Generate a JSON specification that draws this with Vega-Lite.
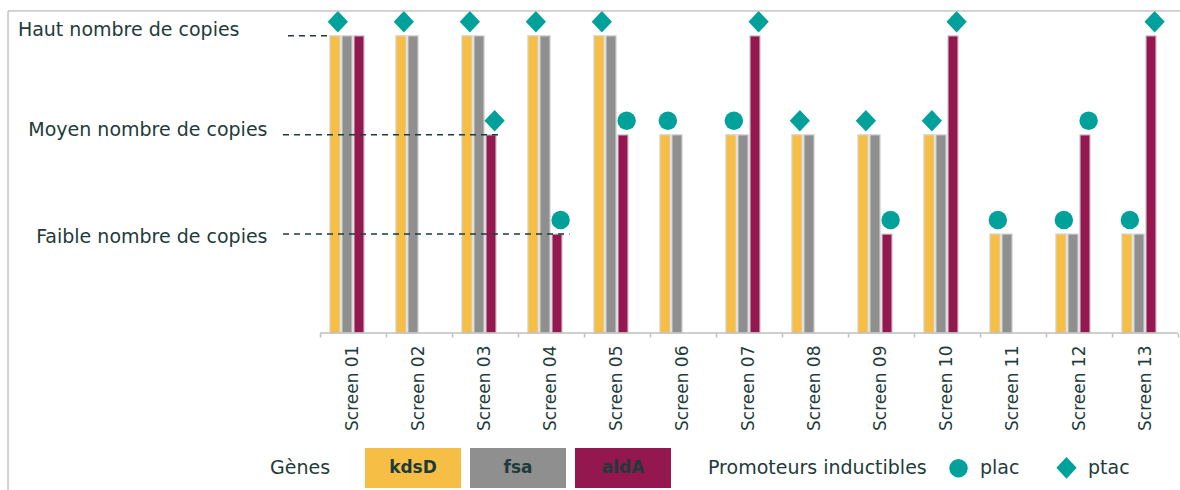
{
  "$schema": "https://vega.github.io/schema/vega-lite/v6.json",
  "autosize": "none",
  "width": 895,
  "height": 327,
  "padding": {"left": 283, "top": 6, "right": 2, "bottom": 157},
  "background": "white",
  "config": {
    "view": {"stroke": null},
    "font": "DejaVu Sans",
    "axis": {"labelColor": "#1e3b3b", "titleColor": "#1e3b3b"},
    "legend": {"labelColor": "#1e3b3b", "titleColor": "#1e3b3b"}
  },
  "datasets": {
    "bars": [
      {"screen": "Screen 01", "gene": "kdsD", "level": 3},
      {"screen": "Screen 01", "gene": "fsa", "level": 3},
      {"screen": "Screen 01", "gene": "aldA", "level": 3},
      {"screen": "Screen 02", "gene": "kdsD", "level": 3},
      {"screen": "Screen 02", "gene": "fsa", "level": 3},
      {"screen": "Screen 03", "gene": "kdsD", "level": 3},
      {"screen": "Screen 03", "gene": "fsa", "level": 3},
      {"screen": "Screen 03", "gene": "aldA", "level": 2},
      {"screen": "Screen 04", "gene": "kdsD", "level": 3},
      {"screen": "Screen 04", "gene": "fsa", "level": 3},
      {"screen": "Screen 04", "gene": "aldA", "level": 1},
      {"screen": "Screen 05", "gene": "kdsD", "level": 3},
      {"screen": "Screen 05", "gene": "fsa", "level": 3},
      {"screen": "Screen 05", "gene": "aldA", "level": 2},
      {"screen": "Screen 06", "gene": "kdsD", "level": 2},
      {"screen": "Screen 06", "gene": "fsa", "level": 2},
      {"screen": "Screen 07", "gene": "kdsD", "level": 2},
      {"screen": "Screen 07", "gene": "fsa", "level": 2},
      {"screen": "Screen 07", "gene": "aldA", "level": 3},
      {"screen": "Screen 08", "gene": "kdsD", "level": 2},
      {"screen": "Screen 08", "gene": "fsa", "level": 2},
      {"screen": "Screen 09", "gene": "kdsD", "level": 2},
      {"screen": "Screen 09", "gene": "fsa", "level": 2},
      {"screen": "Screen 09", "gene": "aldA", "level": 1},
      {"screen": "Screen 10", "gene": "kdsD", "level": 2},
      {"screen": "Screen 10", "gene": "fsa", "level": 2},
      {"screen": "Screen 10", "gene": "aldA", "level": 3},
      {"screen": "Screen 11", "gene": "kdsD", "level": 1},
      {"screen": "Screen 11", "gene": "fsa", "level": 1},
      {"screen": "Screen 12", "gene": "kdsD", "level": 1},
      {"screen": "Screen 12", "gene": "fsa", "level": 1},
      {"screen": "Screen 12", "gene": "aldA", "level": 2},
      {"screen": "Screen 13", "gene": "kdsD", "level": 1},
      {"screen": "Screen 13", "gene": "fsa", "level": 1},
      {"screen": "Screen 13", "gene": "aldA", "level": 3}
    ],
    "markers": [
      {"screen": "Screen 01", "target": "kdsD+fsa", "promoter": "ptac", "level": 3},
      {"screen": "Screen 02", "target": "kdsD+fsa", "promoter": "ptac", "level": 3},
      {"screen": "Screen 03", "target": "kdsD+fsa", "promoter": "ptac", "level": 3},
      {"screen": "Screen 03", "target": "aldA", "promoter": "ptac", "level": 2},
      {"screen": "Screen 04", "target": "kdsD+fsa", "promoter": "ptac", "level": 3},
      {"screen": "Screen 04", "target": "aldA", "promoter": "plac", "level": 1},
      {"screen": "Screen 05", "target": "kdsD+fsa", "promoter": "ptac", "level": 3},
      {"screen": "Screen 05", "target": "aldA", "promoter": "plac", "level": 2},
      {"screen": "Screen 06", "target": "kdsD+fsa", "promoter": "plac", "level": 2},
      {"screen": "Screen 07", "target": "kdsD+fsa", "promoter": "plac", "level": 2},
      {"screen": "Screen 07", "target": "aldA", "promoter": "ptac", "level": 3},
      {"screen": "Screen 08", "target": "kdsD+fsa", "promoter": "ptac", "level": 2},
      {"screen": "Screen 09", "target": "kdsD+fsa", "promoter": "ptac", "level": 2},
      {"screen": "Screen 09", "target": "aldA", "promoter": "plac", "level": 1},
      {"screen": "Screen 10", "target": "kdsD+fsa", "promoter": "ptac", "level": 2},
      {"screen": "Screen 10", "target": "aldA", "promoter": "ptac", "level": 3},
      {"screen": "Screen 11", "target": "kdsD+fsa", "promoter": "plac", "level": 1},
      {"screen": "Screen 12", "target": "kdsD+fsa", "promoter": "plac", "level": 1},
      {"screen": "Screen 12", "target": "aldA", "promoter": "plac", "level": 2},
      {"screen": "Screen 13", "target": "kdsD+fsa", "promoter": "plac", "level": 1},
      {"screen": "Screen 13", "target": "aldA", "promoter": "ptac", "level": 3}
    ],
    "levelLines": [
      {"level": 3, "from": -0.485, "to": 0.106},
      {"level": 2, "from": -0.5606, "to": 2.76},
      {"level": 1, "from": -0.5606, "to": 3.78}
    ],
    "baseline": [
      {"level": 0, "from": 0, "to": 13}
    ],
    "frame": [
      {"x1": -4.727, "x2": 13.6, "y1": 3.25, "y2": 3.25},
      {"x1": -4.727, "x2": -4.727, "y1": 3.25, "y2": -1.6}
    ]
  },
  "resolve": {"scale": {"x": "independent"}},
  "layer": [
    {
      "resolve": {"scale": {"xOffset": "independent"}},
      "layer": [
        {
          "data": {"name": "bars"},
          "mark": {"type": "bar", "stroke": "#d4d4d4", "strokeWidth": 1.5, "strokeOpacity": 0.8},
          "encoding": {
            "x": {
              "field": "screen", "type": "nominal", "sort": null,
              "scale": {"paddingInner": 0, "paddingOuter": 0.2803, "align": 1},
              "axis": {
                "title": null, "domain": false, "tickBand": "extent",
                "tickColor": "#bfbfbf", "tickSize": 4, "tickWidth": 1.5,
                "labelAngle": -90, "labelAlign": "right", "labelBaseline": "middle",
                "labelFontSize": 17, "labelPadding": 8
              }
            },
            "xOffset": {
              "field": "gene", "type": "nominal",
              "scale": {"domain": ["kdsD", "fsa", "aldA", "-"], "paddingInner": 0.15, "paddingOuter": 0.825}
            },
            "y": {
              "field": "level", "type": "quantitative",
              "scale": {"domain": [0, 3.3], "nice": false, "zero": true},
              "axis": {
                "title": null, "domain": false, "ticks": false, "grid": false,
                "values": [1, 2, 3], "labelLimit": 400,
                "labelExpr": "datum.value == 3 ? 'Haut nombre de copies' : datum.value == 2 ? 'Moyen nombre de copies' : 'Faible nombre de copies'",
                "labelFontSize": 19,
                "labelPadding": {"condition": {"test": "datum.value == 3", "value": 44}, "value": 16},
                "labelOffset": {"condition": [{"test": "datum.value == 3", "value": -6}, {"test": "datum.value == 2", "value": -5}], "value": 3}
              }
            },
            "color": {
              "field": "gene", "type": "nominal",
              "scale": {"domain": ["kdsD", "fsa", "aldA"], "range": ["#f6be45", "#8f8f8f", "#94174f"]},
              "legend": {
                "orient": "none", "legendX": -13, "legendY": 442,
                "direction": "horizontal", "title": "Gènes", "titleOrient": "left",
                "titleFontSize": 19, "titleFontWeight": "normal", "titlePadding": 62, "titleLimit": 300,
                "symbolType": "M-2.4,-1L2.4,-1L2.4,1L-2.4,1Z", "symbolSize": 1600,
                "symbolStrokeWidth": 0, "symbolOpacity": 1,
                "labelOffset": -20, "labelAlign": "center",
                "labelFontSize": 17, "labelFontWeight": "bold", "columnPadding": 9,
                "encode": {
                  "symbols": {
                    "enter": {"fill": {"signal": "datum.value === 'kdsD' ? '#ffc000' : datum.value === 'fsa' ? '#b4b4b4' : '#94174f'"}},
                    "update": {"fill": {"signal": "datum.value === 'kdsD' ? '#ffc000' : datum.value === 'fsa' ? '#b4b4b4' : '#94174f'"}}
                  }
                }
              }
            }
          }
        },
        {
          "data": {"name": "markers"},
          "mark": {"type": "point", "filled": true, "opacity": 1, "color": "#00a19a", "size": 340, "yOffset": -14},
          "encoding": {
            "x": {"field": "screen", "type": "nominal", "sort": null},
            "xOffset": {
              "field": "target", "type": "nominal",
              "scale": {"domain": ["kdsD+fsa", "aldA"], "paddingInner": 0, "paddingOuter": 0.833, "align": 0.433}
            },
            "y": {"field": "level", "type": "quantitative"},
            "shape": {
              "field": "promoter", "type": "nominal",
              "scale": {"domain": ["plac", "ptac"], "range": ["circle", "M0,-1.17L1.1,0L0,1.17L-1.1,0Z"]},
              "legend": {
                "orient": "none", "legendX": 425, "legendY": 452,
                "direction": "horizontal", "title": "Promoteurs inductibles", "titleOrient": "left",
                "titleFontSize": 19, "titleFontWeight": "normal", "titlePadding": 22, "titleLimit": 400,
                "symbolSize": 340, "symbolFillColor": "#00a19a", "symbolStrokeWidth": 0,
                "labelFontSize": 19, "labelOffset": 12, "columnPadding": 36
              }
            }
          }
        }
      ]
    },
    {
      "layer": [
        {
          "data": {"name": "levelLines"},
          "mark": {"type": "rule", "color": "#1e3b3b", "strokeWidth": 1.5, "strokeDash": [6, 5]},
          "encoding": {
            "x": {"field": "from", "type": "quantitative", "scale": {"domain": [-0.5606, 13], "nice": false, "zero": false}, "axis": null},
            "x2": {"field": "to"},
            "y": {"field": "level", "type": "quantitative"}
          }
        },
        {
          "data": {"name": "baseline"},
          "mark": {"type": "rule", "color": "#bfbfbf", "strokeWidth": 1.5},
          "encoding": {
            "x": {"field": "from", "type": "quantitative"},
            "x2": {"field": "to"},
            "y": {"field": "level", "type": "quantitative"}
          }
        },
        {
          "data": {"name": "frame"},
          "mark": {"type": "rule", "color": "#a8a8a8", "strokeWidth": 1},
          "encoding": {
            "x": {"field": "x1", "type": "quantitative"},
            "x2": {"field": "x2"},
            "y": {"field": "y1", "type": "quantitative"},
            "y2": {"field": "y2"}
          }
        }
      ]
    }
  ]
}
